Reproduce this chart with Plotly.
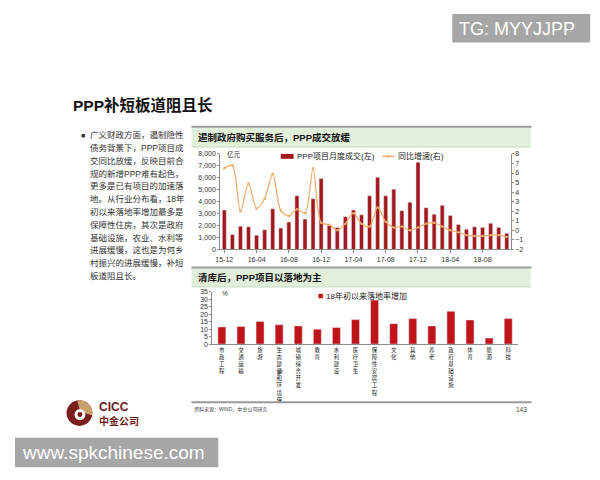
import math
import plotly.graph_objects as go

W, H = 600, 480
OFF = 8  # page body margin of the browser view
def px(x): return (x - OFF) / W
def py(y): return 1 - (y - OFF) / H

# ---------------- data ----------------
months = ['15-12', '16-01', '16-02', '16-03', '16-04', '16-05', '16-06', '16-07', '16-08', '16-09', '16-10', '16-11',
          '16-12', '17-01', '17-02', '17-03', '17-04', '17-05', '17-06', '17-07', '17-08', '17-09', '17-10', '17-11',
          '17-12', '18-01', '18-02', '18-03', '18-04', '18-05', '18-06', '18-07', '18-08', '18-09', '18-10', '18-11']
deal_value = [3300, 1250, 1950, 1900, 1200, 1650, 3400, 1800, 2300, 4500, 2550, 4250,
              5950, 2000, 1850, 2750, 3300, 2900, 4500, 6050, 4500, 5050, 3250, 3950,
              7300, 3500, 2950, 3700, 2850, 2100, 1700, 1900, 1850, 2200, 1850, 1350]
yoy_growth = [6.5, 6.8, 2.0, 4.9, 2.3, 3.3, 5.9, 2.1, 1.5, 2.2, 1.8, 6.5,
              0.8, 0.6, 0.0, 0.7, 1.8, 0.7, 0.4, 2.4, 0.9, 0.3, 0.4, 0.0,
              0.3, 0.7, 0.8, 0.4, 0.0, -0.2, -0.5, -0.6, -0.6, -0.5, -0.5, -0.7]
month_ticks = ['15-12', '16-04', '16-08', '16-12', '17-04', '17-08', '17-12', '18-04', '18-08']
left_ticks = [0, 1000, 2000, 3000, 4000, 5000, 6000, 7000, 8000]
right_ticks = [-2, -1, 0, 1, 2, 3, 4, 5, 6, 7, 8]

sectors = ['市政工程', '交通运输', '旅游', '生态建设和环境保护', '城镇综合开发', '教育', '水利建设', '医疗卫生',
           '保障性安居工程', '文化', '其他', '养老', '政府基础设施', '体育', '能源', '科技']
sector_labels = ['市政工程', '交通运输', '旅游', '生态建设和环境保', '城镇综合开发', '教育', '水利建设', '医疗卫生',
                 '保障性安居工程', '文化', '其他', '养老', '政府基础设施', '体育', '能源', '科技']
landing_rate_increase = [11.5, 11.8, 15.1, 12.9, 12.2, 10.0, 11.1, 16.4, 29.5, 13.7, 17.1, 12.2, 22.0, 16.2, 4.0, 17.1]
pct_ticks = [0, 5, 10, 15, 20, 25, 30, 35]

bullet_lines = ['广义财政方面，遏制隐性', '债务背景下，PPP项目成', '交同比放缓，反映目前合', '规的新增PPP难有起色，',
                '更多是已有项目的加速落', '地。从行业分布看，18年', '初以来落地率增加最多是', '保障性住房，其次是政府',
                '基础设施，农业、水利等', '进展缓慢，这也是为何乡', '村振兴的进展缓慢，补短', '板道阻且长。']

FONT = 'Liberation Sans, Noto Sans CJK SC, sans-serif'
BAR_TOP = '#a3181d'
BAR_BOTTOM = '#c0141b'
LINE_COL = '#f0a965'
AX_COL = '#8c8c8c'

fig = go.Figure()
fig.add_trace(go.Bar(x=months, y=deal_value, name='PPP项目月度成交(左)', marker_color=BAR_TOP,
                     width=0.5, xaxis='x', yaxis='y', showlegend=False))
fig.add_trace(go.Scatter(x=months, y=yoy_growth, name='同比增速(右)', mode='lines+markers',
                         line=dict(color=LINE_COL, width=1.2, shape='spline', smoothing=0.8),
                         marker=dict(size=2.5, color=LINE_COL), xaxis='x', yaxis='y2', showlegend=False))
fig.add_trace(go.Bar(x=sectors, y=landing_rate_increase, name='18年初以来落地率增加', marker_color=BAR_BOTTOM,
                     width=0.42, xaxis='x2', yaxis='y3', showlegend=False))

tick_font = dict(size=7, color='#333', family=FONT)

fig.update_layout(
    width=W, height=H, margin=dict(l=0, r=0, t=0, b=0),
    paper_bgcolor='white', plot_bgcolor='rgba(0,0,0,0)',
    font=dict(family=FONT, color='#222'),
    showlegend=False,
    xaxis=dict(domain=[px(217), px(510)], anchor='y', type='category', categoryorder='array',
               categoryarray=months, range=[-0.5, len(months) - 0.5],
               tickvals=month_ticks, ticktext=month_ticks, tickfont=tick_font,
               showline=True, linecolor=AX_COL, linewidth=1, ticks='outside', ticklen=3, tickcolor=AX_COL,
               showgrid=False, zeroline=False),
    yaxis=dict(domain=[py(249), py(152)], anchor='x', range=[0, 8000], tickvals=left_ticks,
               tickformat=',', tickfont=tick_font, showline=True, linecolor=AX_COL, linewidth=1,
               ticks='outside', ticklen=2, tickcolor=AX_COL, showgrid=False, zeroline=False),
    yaxis2=dict(overlaying='y', side='right', anchor='x', range=[-2, 8], tickvals=right_ticks,
                tickfont=tick_font, showline=True, linecolor=AX_COL, linewidth=1,
                ticks='outside', ticklen=2, tickcolor=AX_COL, showgrid=False, zeroline=False),
    xaxis2=dict(domain=[px(209), px(517)], anchor='y3', type='category', categoryorder='array',
                categoryarray=sectors, range=[-0.5, len(sectors) - 0.5], tickvals=sectors,
                ticktext=['<br>'.join(list(s)) for s in sector_labels],
                tickfont=dict(size=5.5, color='#222', family=FONT), tickangle=0,
                showline=True, linecolor=AX_COL, linewidth=1, ticks='', showgrid=False, zeroline=False),
    yaxis3=dict(domain=[py(345), py(292)], anchor='x2', range=[0, 35], tickvals=pct_ticks,
                tickfont=tick_font, showline=True, linecolor=AX_COL, linewidth=1,
                ticks='outside', ticklen=2, tickcolor=AX_COL, showgrid=False, zeroline=False),
)

shapes = []
anns = []

def text(t, x, y, size, color='#222', xanchor='left', family=None):
    f = dict(size=size, color=color)
    if family:
        f['family'] = family
    anns.append(dict(text=t, x=px(x), y=py(y), xref='paper', yref='paper', xanchor=xanchor,
                     yanchor='middle', showarrow=False, font=f))

def rect(x0, y0, x1, y1, color, layer='above'):
    shapes.append(dict(type='rect', xref='paper', yref='paper', x0=px(x0), x1=px(x1), y0=py(y1), y1=py(y0),
                       fillcolor=color, line=dict(width=0), layer=layer))

def hline(x0, x1, y, color, width):
    shapes.append(dict(type='line', xref='paper', yref='paper', x0=px(x0), x1=px(x1), y0=py(y), y1=py(y),
                       line=dict(color=color, width=width)))

# section rules and header bands
rect(188, 125, 530, 145, '#e2efdb', 'below')
rect(188, 268, 530, 287, '#e2efdb', 'below')
for yy in (124.5, 267.2, 404):
    hline(188, 531, yy, '#9a9a9a', 2)
for yy in (145, 287):
    hline(188, 530, yy, '#c4dcbf', 1)

text('<b>遏制政府购买服务后，PPP成交放缓</b>', 193, 135, 9.5, '#111')
text('<b>清库后，PPP项目以落地为主</b>', 193, 277, 9.5, '#111')
text('亿元', 222, 153, 6.5, '#333')
text('%', 217, 294, 6.5, '#333')
text('护', 277, 373, 5.5, '#222', 'center')

# legends (drawn as keys + labels)
rect(278, 152, 291, 157, BAR_TOP)
text('PPP项目月度成交(左)', 292, 154.5, 8, '#222')
hline(380, 393, 154.5, LINE_COL, 1.2)
shapes.append(dict(type='circle', xref='paper', yref='paper', x0=px(385), x1=px(388), y0=py(156), y1=py(153),
                   fillcolor=LINE_COL, line=dict(width=0)))
text('同比增速(右)', 394, 154.5, 8, '#222')
rect(316, 294, 320.5, 298.5, BAR_BOTTOM)
text('18年初以来落地率增加', 322, 296.5, 8, '#222')

# page title and bullet text
text('<b>PPP补短板道阻且长</b>', 66, 102, 15.5, '#111')
text('■', 75, 133, 7, '#333')
for i, line in enumerate(bullet_lines):
    text(line, 84, 133 + 13 * i, 8.5, '#333')

# footer
text('资料来源：WIND，中金公司研究', 189, 411, 5, '#444')
text('143', 528, 411, 6.5, '#444', 'right')

# CICC logo
cx, cy, r = 75, 415, 13
shapes.append(dict(type='circle', xref='paper', yref='paper', x0=px(cx - r), x1=px(cx + r), y0=py(cy + r),
                   y1=py(cy - r), fillcolor='#7b1e1e', line=dict(width=0)))
pts = [(cx + 1, cy - 1)]
for k in range(0, 21):
    a = math.radians(-100 + 110 * k / 20)
    pts.append((cx + r * math.cos(a), cy + r * math.sin(a)))
path = 'M ' + ' L '.join(f'{px(x):.5f},{py(y):.5f}' for x, y in pts) + ' Z'
shapes.append(dict(type='path', xref='paper', yref='paper', path=path, fillcolor='#c9a16a', line=dict(width=0)))
shapes.append(dict(type='circle', xref='paper', yref='paper', x0=px(cx - 5), x1=px(cx + 6), y0=py(cy + 7),
                   y1=py(cy - 4), fillcolor='white', line=dict(width=0)))
shapes.append(dict(type='circle', xref='paper', yref='paper', x0=px(cx - 2), x1=px(cx + 3), y0=py(cy + 4),
                   y1=py(cy - 1), fillcolor='#7b1e1e', line=dict(width=0)))
text('<b>CICC</b>', 93, 409, 12, '#6e1a1a', family='Liberation Sans')
text('<b>中金公司</b>', 93, 423, 10, '#6e1a1a')

# watermark boxes
rect(451, 10, 590, 39, '#a6a6a6')
text('TG: MYYJJPP', 456, 25, 18, 'white', family='Liberation Sans')
rect(10, 440, 215, 470, '#a6a6a6')
text('www.spkchinese.com', 15, 455, 19, 'white', family='Liberation Sans')

fig.update_layout(shapes=shapes, annotations=anns)
fig.write_html('out.html')
